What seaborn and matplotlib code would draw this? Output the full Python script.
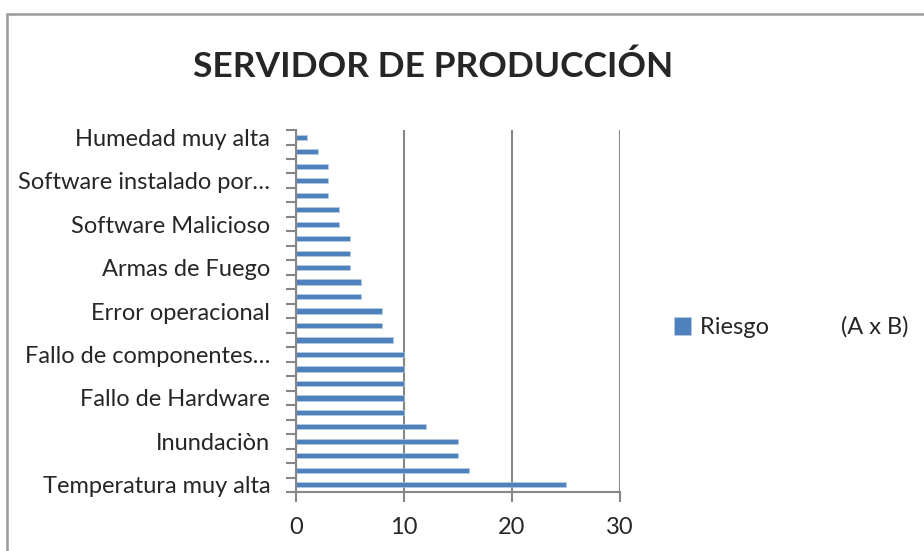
import pandas as pd
import matplotlib.pyplot as plt
import seaborn as sns
from matplotlib.patches import Rectangle
from matplotlib.ticker import FixedLocator

# datos: riesgo (A x B) por amenaza, de arriba hacia abajo
riesgo = [1, 2, 3, 3, 3, 4, 4, 5, 5, 5, 6, 6, 8, 8, 9,
          10, 10, 10, 10, 10, 12, 15, 15, 16, 25]
amenaza_id = list(range(1, len(riesgo) + 1))
# solo se ven algunas etiquetas (una de cada tres)
etiquetas = {1: 'Humedad muy alta', 4: 'Software instalado por…',
             7: 'Software Malicioso', 10: 'Armas de Fuego',
             13: 'Error operacional', 16: 'Fallo de componentes…',
             19: 'Fallo de Hardware', 22: 'Inundaciòn', 25: 'Temperatura muy alta'}
x_ticks = [0, 10, 20, 30]

df = pd.DataFrame({'amenaza': [str(i) for i in amenaza_id], 'riesgo': riesgo})

sns.set_style('white')
plt.rcParams['font.family'] = ['Lato', 'DejaVu Sans']

fig = plt.figure(figsize=(9.24, 5.51), dpi=100)
ax = fig.add_axes([0.3203, 0.107, 0.3507, 0.657])

sns.barplot(data=df, y='amenaza', x='riesgo', orient='h', color='#4F81BD',
            width=0.36, saturation=1, edgecolor='#B9CDE5', linewidth=0.4,
            label='Riesgo            (A x B)', ax=ax)

gris = '#868686'
ax.set_xlim(0, 30)
ax.set_xticks(x_ticks)
ax.xaxis.grid(True, color=gris, linewidth=1.5)
ax.set_axisbelow(True)
ax.set_ylim(len(riesgo) - 0.5, -0.5)

pos = [i - 1 for i in etiquetas]
ax.yaxis.set_major_locator(FixedLocator(pos))
ax.set_yticklabels(list(etiquetas.values()))
ax.yaxis.set_minor_locator(FixedLocator([i - 0.5 for i in range(len(riesgo) + 1)]))
ax.tick_params(axis='y', which='major', length=0, pad=18.5, labelsize=17)
ax.tick_params(axis='y', which='minor', left=True, length=7, width=1.5, color=gris)
ax.tick_params(axis='x', bottom=True, length=7, width=1.5, color=gris, pad=11, labelsize=17)

for s in ['top', 'right']:
    ax.spines[s].set_visible(False)
for s in ['left', 'bottom']:
    ax.spines[s].set_color(gris)
    ax.spines[s].set_linewidth(1.5)

ax.set_xlabel('')
ax.set_ylabel('')

fig.text(0.469, 0.879, 'SERVIDOR DE PRODUCCIÓN', ha='center', va='center',
         fontsize=25.5, fontweight='bold')

ax.legend(loc='center left', bbox_to_anchor=(1.10, 0.455), frameon=False,
          fontsize=17, handlelength=0.75, handleheight=0.75, handletextpad=0.35)

# marco del gráfico
fig.patches.append(Rectangle((6.5 / 924, -0.5), 2, 1 - 14 / 551 + 0.5,
                             transform=fig.transFigure, fill=False,
                             edgecolor='#9a9a9a', linewidth=1.8))

fig.savefig('out.png', dpi=100)
